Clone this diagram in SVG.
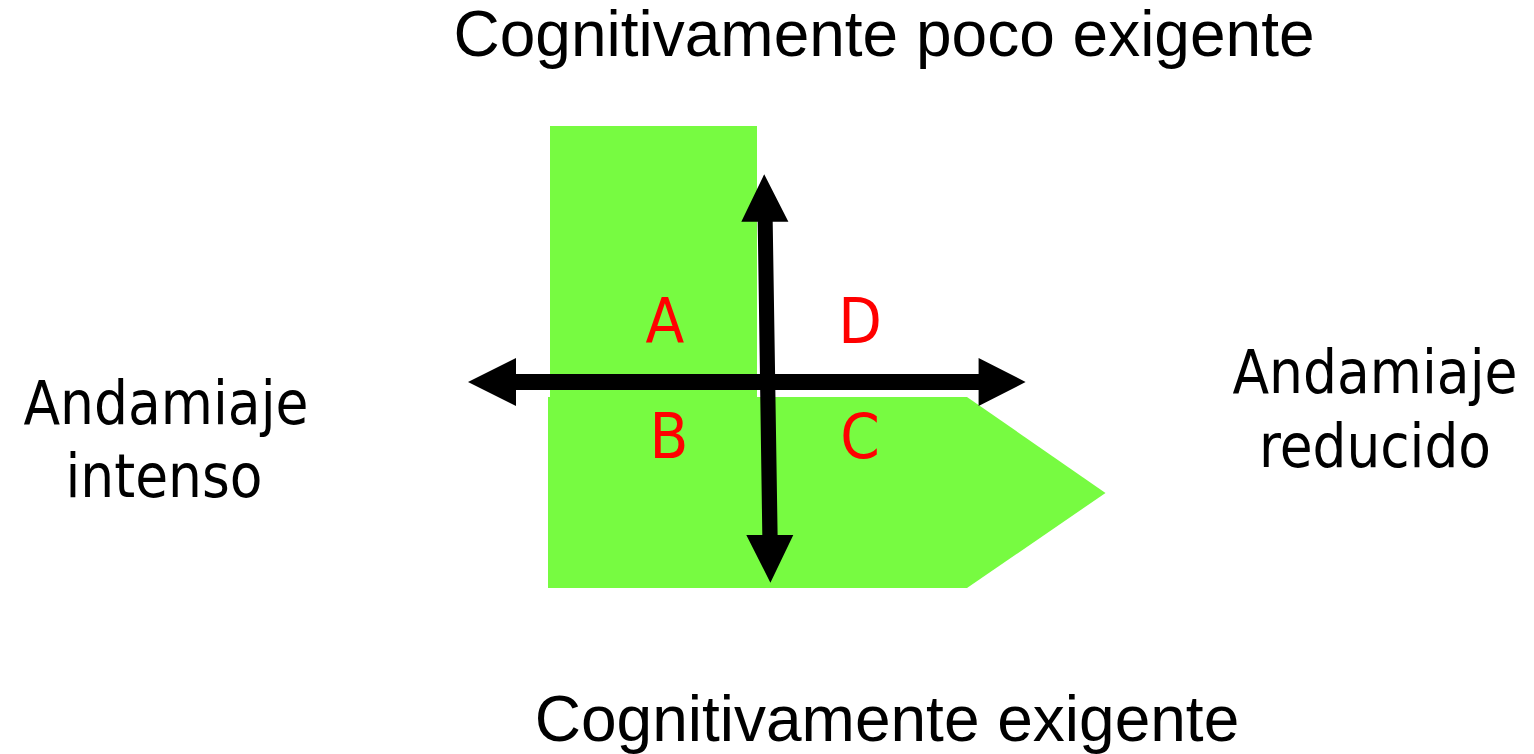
<svg xmlns="http://www.w3.org/2000/svg" width="1534" height="754" viewBox="0 0 1534 754">
<style>
.zone{fill:#77fb41;}
.arrow{fill:#000;}
.title{font-family:"Liberation Sans",Arial,sans-serif;font-size:64px;fill:#000;}
.side{font-family:"DejaVu Sans Condensed","DejaVu Sans",Verdana,sans-serif;font-size:61px;fill:#000;text-anchor:middle;}
.quad{font-family:"DejaVu Sans Condensed","DejaVu Sans",Verdana,sans-serif;font-size:63px;fill:#ff0000;text-anchor:middle;}
</style>
<rect width="1534" height="754" fill="#fff"/>
<g id="zone-top">
<rect class="zone" x="550" y="126" width="207" height="272"/>
</g>
<g id="zone-bottom">
<polygon class="zone" points="548,397 967,397 1105.5,493 967,588 548,588"/>
</g>
<g id="connectors">
<polygon class="arrow" points="764.2,174.3 788.4,221.7 772.7,221.7 777.6,535 793.3,535 770.4,582.7 746.3,535 762.3,535 757.7,221.7 741.3,221.7"/>
<polygon class="arrow" points="468,382 516,358 516,374 978.6,374 978.6,358 1025.6,382 978.6,406 978.6,390 516,390 516,406"/>
</g>
<g id="label-top"><text class="title" x="884" y="56" text-anchor="middle">Cognitivamente poco exigente</text></g>
<g id="label-bottom"><text class="title" x="887" y="741" text-anchor="middle">Cognitivamente exigente</text></g>
<g id="label-left"><text class="side" x="166" y="424" textLength="285" lengthAdjust="spacingAndGlyphs">Andamiaje</text><text class="side" x="164" y="497" textLength="197" lengthAdjust="spacingAndGlyphs">intenso</text></g>
<g id="label-right"><text class="side" x="1375" y="393" textLength="285" lengthAdjust="spacingAndGlyphs">Andamiaje</text><text class="side" x="1375" y="467" textLength="232" lengthAdjust="spacingAndGlyphs">reducido</text></g>
<g id="quad-A"><text class="quad" x="665" y="343">A</text></g>
<g id="quad-D"><text class="quad" x="860" y="343">D</text></g>
<g id="quad-B"><text class="quad" x="669" y="458">B</text></g>
<g id="quad-C"><text class="quad" x="860" y="458">C</text></g>
</svg>
